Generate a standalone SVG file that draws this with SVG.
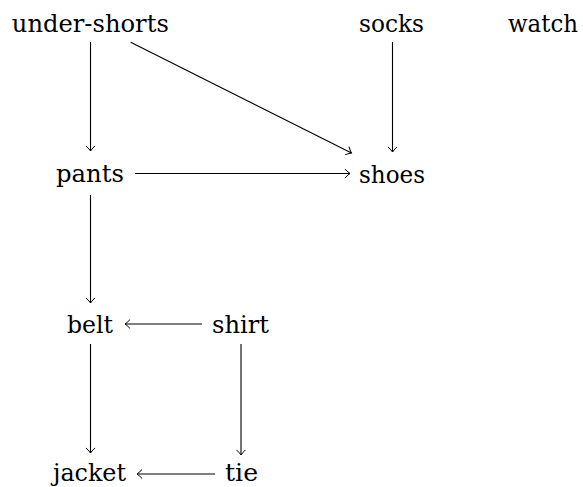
<svg xmlns="http://www.w3.org/2000/svg" width="583" height="487" viewBox="0 0 583 487">
<defs>
<style>
text{font-family:'DejaVu Serif','Liberation Serif',serif;font-size:24px;fill:#000;text-anchor:middle}
.edge{stroke:#000;stroke-width:1.1;fill:none;marker-end:url(#arr)}
</style>
<marker id="arr" markerUnits="userSpaceOnUse" orient="auto" refX="0" refY="0" markerWidth="10" markerHeight="10" overflow="visible">
<path d="M -4.8,-4.2 Q -1.6,-0.9 0,0 Q -1.6,0.9 -4.8,4.2" fill="none" stroke="#000" stroke-width="1" stroke-linecap="round"/>
</marker>
</defs>
<rect width="583" height="487" fill="#fff"/>
<g id="under-shorts"><text x="90.3" y="32" textLength="157" lengthAdjust="spacingAndGlyphs">under-shorts</text></g>
<g id="socks"><text x="391.5" y="32" textLength="65" lengthAdjust="spacingAndGlyphs">socks</text></g>
<g id="watch"><text x="543" y="32" textLength="70" lengthAdjust="spacingAndGlyphs">watch</text></g>
<g id="pants"><text x="90" y="181.5" textLength="68" lengthAdjust="spacingAndGlyphs">pants</text></g>
<g id="shoes"><text x="392" y="182.5" textLength="66" lengthAdjust="spacingAndGlyphs">shoes</text></g>
<g id="belt"><text x="90" y="332.5" textLength="46" lengthAdjust="spacingAndGlyphs">belt</text></g>
<g id="shirt"><text x="240.5" y="332.5" textLength="57" lengthAdjust="spacingAndGlyphs">shirt</text></g>
<g id="jacket"><text x="89.5" y="480.5" textLength="73" lengthAdjust="spacingAndGlyphs">jacket</text></g>
<g id="tie"><text x="241.5" y="480.5" textLength="33" lengthAdjust="spacingAndGlyphs">tie</text></g>
<g id="connectors">
<line class="edge" x1="90.5" y1="42" x2="90.5" y2="151"/>
<line class="edge" x1="130.7" y1="42.3" x2="351.5" y2="153"/>
<line class="edge" x1="392.5" y1="42" x2="392.5" y2="152"/>
<line class="edge" x1="135" y1="173.5" x2="350" y2="173.5"/>
<line class="edge" x1="90.5" y1="195" x2="90.5" y2="303"/>
<line class="edge" x1="202" y1="324" x2="125" y2="324"/>
<line class="edge" x1="90.5" y1="344" x2="90.5" y2="453"/>
<line class="edge" x1="241" y1="344" x2="241" y2="455"/>
<line class="edge" x1="215" y1="474" x2="137" y2="474"/>
</g>
</svg>
